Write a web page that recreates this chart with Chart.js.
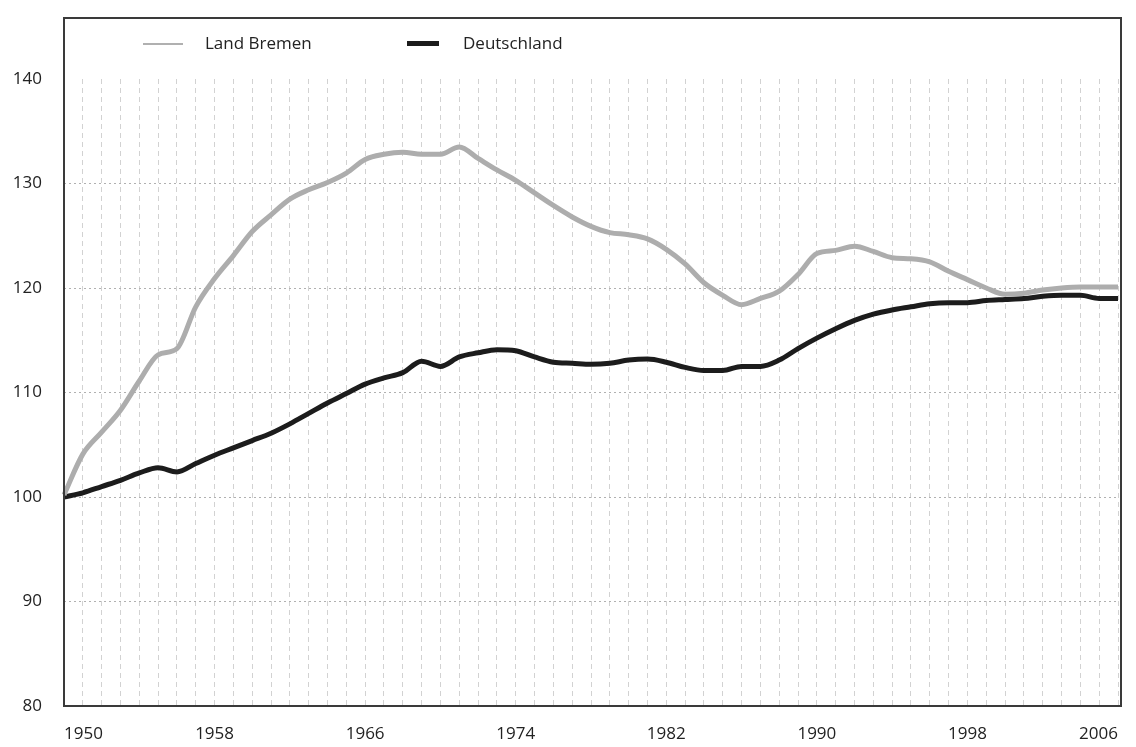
<!DOCTYPE html>
<html>
<head>
<meta charset="utf-8">
<script src="https://cdn.jsdelivr.net/npm/chart.js@4"></script>
<style>
  html, body { margin: 0; padding: 0; background: #fff; }
  #wrap { position: relative; width: 1136px; height: 747px; }
  .legend { position: absolute; top: 31px; font: 17px "Open Sans", sans-serif; color: #222; }
  .legend span.swatch { position: absolute; top: 12px; width: 40px; }
</style>
</head>
<body>
<div id="wrap">
  <canvas id="chartLine" width="1136" height="747"></canvas>
  <div class="legend" style="left:143px"><span class="swatch" style="height:2px;background:#b0b0b0"></span><span style="margin-left:62px">Land Bremen</span></div>
  <div class="legend" style="left:407px"><span class="swatch" style="width:32px;height:5px;top:10px;background:#1c1c1c"></span><span style="margin-left:56px">Deutschland</span></div>
</div>
<script>
// years on the x axis
const years = [];
for (let y = 1950; y <= 2006; y++) years.push(String(y));

// index 1950 = 100
const bremen = [
  100.2, 104.1, 106.2, 108.3, 111.1, 113.6, 114.2, 118.2, 120.9, 123.1,
  125.4, 127.0, 128.5, 129.4, 130.1, 131.0, 132.3, 132.8, 133.0, 132.8,
  132.8, 133.5, 132.4, 131.3, 130.3, 129.1, 127.9, 126.8, 125.9, 125.3,
  125.1, 124.7, 123.7, 122.3, 120.5, 119.3, 118.4, 119.0, 119.7, 121.3,
  123.3, 123.6, 124.0, 123.5, 122.9, 122.8, 122.5, 121.6, 120.8, 120.0,
  119.4, 119.5, 119.8, 120.0, 120.1, 120.1, 120.1
];
const deutschland = [
  100.0, 100.4, 101.0, 101.6, 102.3, 102.8, 102.4, 103.2, 104.0, 104.7,
  105.4, 106.1, 107.0, 108.0, 109.0, 109.9, 110.8, 111.4, 111.9, 113.0,
  112.5, 113.4, 113.8, 114.1, 114.0, 113.4, 112.9, 112.8, 112.7, 112.8,
  113.1, 113.2, 112.9, 112.4, 112.1, 112.1, 112.5, 112.5, 113.1, 114.2,
  115.2, 116.1, 116.9, 117.5, 117.9, 118.2, 118.5, 118.6, 118.6, 118.8,
  118.9, 119.0, 119.2, 119.3, 119.3, 119.0, 119.0
];
const yTicks = [80, 90, 100, 110, 120, 130, 140];

// frame around plot and legend
const frame = {
  id: "frame",
  afterDraw(chart) {
    const { ctx, chartArea } = chart;
    ctx.save();
    ctx.strokeStyle = "#3a3a3a";
    ctx.lineWidth = 2;
    ctx.strokeRect(chartArea.left, 18, chartArea.right + 3 - chartArea.left, chartArea.bottom - 18);
    ctx.restore();
  },
};

const font = { family: "'Open Sans', sans-serif", size: 17 };

new Chart(document.getElementById("chartLine"), {
  type: "line",
  data: {
    labels: years,
    datasets: [
      {
        label: "Land Bremen",
        data: bremen,
        borderColor: "#adadad",
        borderWidth: 5,
        pointRadius: 0,
        cubicInterpolationMode: "monotone",
      },
      {
        label: "Deutschland",
        data: deutschland,
        borderColor: "#1c1c1c",
        borderWidth: 5,
        pointRadius: 0,
        cubicInterpolationMode: "monotone",
      },
    ],
  },
  options: {
    responsive: false,
    animation: false,
    layout: { padding: { top: 79, right: 8, left: 0, bottom: 0 } },
    plugins: { legend: { display: false }, tooltip: { enabled: false } },
    scales: {
      x: {
        offset: false,
        grid: { color: "#d2d2d2", lineWidth: 1, drawTicks: false, offset: false },
        border: { display: false, dash: [5, 4] },
        ticks: {
          autoSkip: false,
          maxRotation: 0,
          align: "inner",
          padding: 18,
          color: "#222",
          font,
          callback(value) {
            const y = Number(this.getLabelForValue(value));
            return (y - 1950) % 8 === 0 ? String(y) : "";
          },
        },
        afterFit(scale) { scale.height = 41; },
      },
      y: {
        min: 80,
        max: 140,
        afterBuildTicks(scale) { scale.ticks = yTicks.map((v) => ({ value: v })); },
        grid: {
          drawTicks: false,
          color: (c) => (c.tick && (c.tick.value === 140 || c.tick.value === 80) ? "rgba(0,0,0,0)" : "#b0b0b0"),
        },
        border: { display: false, dash: [2, 3] },
        ticks: { padding: 22, color: "#222", font },
        afterFit(scale) { scale.width = 64; },
      },
    },
  },
  plugins: [frame],
});
</script>
</body>
</html>
